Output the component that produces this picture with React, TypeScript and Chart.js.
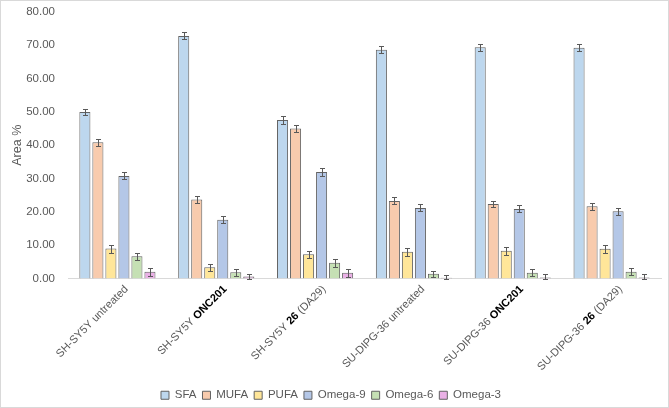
import React, { useEffect, useRef } from "react";
import { Chart, registerables } from "chart.js";

Chart.register(...registerables);

const categories = [
  "SH-SY5Y untreated",
  "SH-SY5Y ONC201",
  "SH-SY5Y 26 (DA29)",
  "SU-DIPG-36 untreated",
  "SU-DIPG-36 ONC201",
  "SU-DIPG-36 26 (DA29)",
];
const boldParts = ["", "ONC201", "26", "", "ONC201", "26"];

const seriesNames = ["SFA", "MUFA", "PUFA", "Omega-9", "Omega-6", "Omega-3"];
const seriesColors = ["#BDD7EE", "#F8CBAD", "#FFE699", "#B4C7E7", "#C5E0B4", "#EAB0E6"];

const sfa = [50.0, 72.8, 47.6, 68.7, 69.4, 69.3];
const mufa = [40.9, 23.7, 45.0, 23.3, 22.4, 21.7];
const pufa = [9.0, 3.4, 7.3, 8.0, 8.3, 8.9];
const omega9 = [30.8, 17.6, 32.0, 21.2, 20.9, 20.2];
const omega6 = [6.7, 1.9, 4.7, 1.4, 1.7, 2.0];
const omega3 = [2.0, 0.6, 1.7, 0.2, 0.3, 0.3];

const sfaErr = [1.0, 1.05, 1.1, 1.05, 1.05, 1.05];
const mufaErr = [1.0, 1.05, 1.05, 1.05, 1.0, 1.0];
const pufaErr = [1.2, 1.1, 1.1, 1.1, 1.1, 1.1];
const omega9Err = [1.05, 1.05, 1.1, 1.05, 1.05, 1.05];
const omega6Err = [1.1, 1.1, 1.1, 1.0, 1.05, 1.05];
const omega3Err = [1.3, 0.9, 1.1, 0.8, 1.0, 1.1];

const seriesValues = [sfa, mufa, pufa, omega9, omega6, omega3];
const seriesErrors = [sfaErr, mufaErr, pufaErr, omega9Err, omega6Err, omega3Err];

const yTicks = [0, 10, 20, 30, 40, 50, 60, 70, 80];

const FONT = "'Liberation Sans', Arial, sans-serif";
const TEXT = "#595959";

const errorBarPlugin = {
  id: "errorBars",
  afterDatasetsDraw(chart: any) {
    const ctx = chart.ctx;
    const y = chart.scales.y;
    ctx.save();
    ctx.strokeStyle = "#595959";
    ctx.lineWidth = 1;
    chart.data.datasets.forEach((ds: any, di: number) => {
      const meta = chart.getDatasetMeta(di);
      meta.data.forEach((bar: any, i: number) => {
        const v = ds.data[i];
        const e = seriesErrors[di][i];
        const x = Math.round(bar.x) + 0.5;
        const yt = Math.round(y.getPixelForValue(v + e)) + 0.5;
        const yb = Math.round(y.getPixelForValue(Math.max(0, v - e))) + 0.5;
        ctx.beginPath();
        ctx.moveTo(x, yt);
        ctx.lineTo(x, yb);
        ctx.moveTo(x - 2.5, yt);
        ctx.lineTo(x + 2.5, yt);
        ctx.moveTo(x - 2.5, yb);
        ctx.lineTo(x + 2.5, yb);
        ctx.stroke();
      });
    });
    ctx.restore();
  },
};

const xLabelPlugin = {
  id: "xLabels",
  afterDraw(chart: any) {
    const ctx = chart.ctx;
    const xs = chart.scales.x;
    const y0 = chart.chartArea.bottom;
    categories.forEach((cat, i) => {
      const x = xs.getPixelForTick(i);
      const bold = boldParts[i];
      let parts: [string, boolean][];
      if (bold) {
        const idx = cat.indexOf(bold);
        parts = [
          [cat.slice(0, idx), false],
          [bold, true],
          [cat.slice(idx + bold.length), false],
        ];
      } else {
        parts = [[cat, false]];
      }
      ctx.save();
      ctx.translate(x + 9, y0 + 9);
      ctx.rotate(-Math.PI / 4);
      ctx.textBaseline = "middle";
      ctx.textAlign = "left";
      const widths = parts.map(([t, b]) => {
        ctx.font = `${b ? "bold " : ""}11px ${FONT}`;
        return ctx.measureText(t).width;
      });
      const total = widths.reduce((a, b) => a + b, 0);
      let cx = -total;
      parts.forEach(([t, b], k) => {
        ctx.font = `${b ? "bold " : ""}11px ${FONT}`;
        ctx.fillStyle = b ? "#000000" : TEXT;
        ctx.fillText(t, cx, 0);
        cx += widths[k];
      });
      ctx.restore();
    });
  },
};

const legendShiftPlugin = {
  id: "legendShift",
  afterLayout(chart: any) {
    const l = chart.legend;
    if (l) {
      l.top += 4;
      l.bottom += 4;
    }
  },
};

export default function App() {
  const ref = useRef<HTMLCanvasElement | null>(null);
  useEffect(() => {
    if (!ref.current) return;
    const chart = new Chart(ref.current, {
      type: "bar",
      data: {
        labels: categories,
        datasets: seriesNames.map((name, i) => ({
          label: name,
          data: seriesValues[i],
          backgroundColor: seriesColors[i],
          borderColor: "#626262",
          borderWidth: 1,
          categoryPercentage: 0.79,
          barPercentage: 0.85,
        })),
      },
      options: {
        animation: false,
        responsive: true,
        maintainAspectRatio: false,
        layout: { padding: { top: 11, right: 7, left: 0, bottom: 0 } },
        plugins: {
          tooltip: { enabled: false },
          legend: {
            position: "bottom",
            labels: {
              boxWidth: 8,
              boxHeight: 8,
              padding: 6,
              color: TEXT,
              font: { family: FONT, size: 11.5 },
            },
          },
        },
        scales: {
          x: {
            grid: { display: false, drawTicks: false },
            border: { display: true, color: "#D9D9D9", width: 1 },
            ticks: { color: "rgba(0,0,0,0)", maxRotation: 45, minRotation: 45, font: { family: FONT, size: 11 } },
            afterFit: (s: any) => {
              s.height = 101;
            },
          },
          y: {
            min: 0,
            max: 80,
            afterBuildTicks: (s: any) => {
              s.ticks = yTicks.map((v) => ({ value: v }));
            },
            grid: { display: false, drawTicks: false },
            border: { display: false },
            ticks: {
              color: TEXT,
              padding: 13,
              font: { family: FONT, size: 11.5 },
              callback: (v: any) => Number(v).toFixed(2),
            },
            title: {
              display: true,
              text: "Area %",
              color: TEXT,
              font: { family: FONT, size: 12.5 },
              padding: { top: 9, bottom: 0 },
            },
            afterFit: (s: any) => {
              s.width = 67;
              s.paddingTop = 7;
              s.paddingBottom = 7;
            },
          },
        },
      },
      plugins: [errorBarPlugin, xLabelPlugin, legendShiftPlugin],
    });
    return () => chart.destroy();
  }, []);

  return (
    <div
      style={{
        position: "fixed",
        left: 0,
        top: 0,
        width: 669,
        height: 408,
        boxSizing: "border-box",
        border: "1px solid #D9D9D9",
        background: "#ffffff",
      }}
    >
      <canvas ref={ref} />
    </div>
  );
}
